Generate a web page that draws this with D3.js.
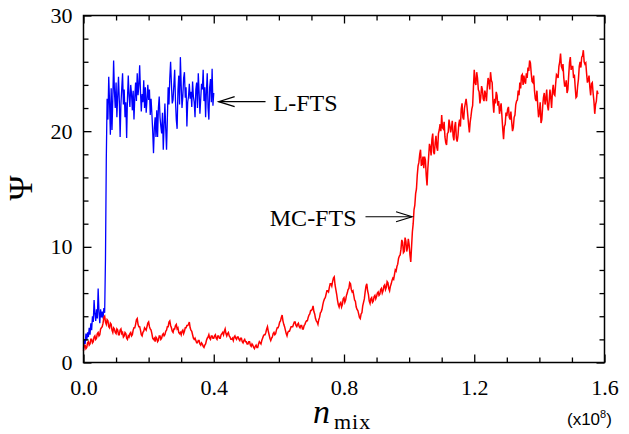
<!DOCTYPE html>
<html>
<head>
<meta charset="utf-8">
<script src="https://cdn.jsdelivr.net/npm/d3@7"></script>
<style>
  body { margin: 0; background: #fff; }
  text { font-family: "Liberation Serif", "DejaVu Serif", serif; fill: #000; }
</style>
</head>
<body>
<div id="chart"></div>
<script>
// MC-FTS run, sampled every 0.0025 (x1e8) from 0
var redStep = 0.0025;
var redValues = [
  1.0, 1.5, 1.5, 1.2, 1.3, 1.7, 1.8, 1.5, 1.6, 2.0, 2.0, 1.7, 1.8, 2.2, 2.3, 2.0, 2.1, 2.5, 2.6, 2.3,
  2.4, 2.9, 3.0, 3.1, 3.4, 3.9, 4.0, 3.5, 3.3, 3.7, 3.6, 3.1, 3.0, 3.4, 3.3, 2.8, 2.6, 3.0, 2.9, 2.6,
  2.5, 2.9, 2.8, 2.4, 2.4, 2.8, 2.9, 2.5, 2.6, 2.2, 2.3, 2.6, 2.5, 2.1, 2.0, 2.3, 2.2, 2.5, 2.6, 2.3,
  2.4, 2.8, 3.0, 3.0, 3.3, 3.7, 3.8, 3.3, 3.1, 3.1, 2.8, 2.4, 2.3, 2.6, 2.7, 3.0, 2.9, 2.8, 3.1, 3.4,
  3.5, 3.1, 2.9, 2.8, 2.5, 2.1, 2.0, 2.1, 1.8, 2.2, 2.1, 1.8, 1.9, 2.3, 2.3, 2.0, 2.1, 2.4, 2.5, 2.3,
  2.4, 2.7, 2.8, 3.1, 3.1, 3.5, 3.6, 3.2, 3.0, 2.7, 2.6, 2.9, 2.9, 3.2, 3.3, 2.9, 3.0, 2.6, 2.5, 2.6,
  2.4, 2.7, 2.8, 2.5, 2.7, 3.0, 3.0, 3.2, 3.2, 3.3, 3.5, 3.0, 2.8, 2.7, 2.4, 2.1, 2.0, 2.1, 1.9, 1.7,
  1.7, 1.9, 1.9, 1.6, 1.5, 1.7, 1.6, 1.4, 1.3, 1.5, 1.6, 1.9, 2.1, 2.2, 2.4, 2.1, 2.0, 2.3, 2.3, 2.1,
  2.1, 2.3, 2.4, 2.1, 2.0, 2.3, 2.3, 2.1, 2.1, 2.4, 2.5, 2.6, 2.4, 2.7, 2.9, 2.5, 2.3, 2.5, 2.6, 2.3,
  2.2, 2.0, 2.0, 2.1, 1.9, 2.2, 2.3, 2.1, 2.0, 2.2, 2.2, 2.0, 1.9, 2.1, 2.1, 1.8, 1.7, 1.9, 2.0, 1.8,
  1.8, 1.6, 1.6, 1.8, 1.8, 1.5, 1.4, 1.6, 1.5, 1.3, 1.2, 1.4, 1.5, 1.3, 1.3, 1.6, 1.8, 1.7, 1.6, 1.9,
  2.1, 2.3, 2.4, 2.4, 2.6, 2.9, 3.1, 2.7, 2.4, 2.1, 1.9, 2.1, 2.2, 2.5, 2.6, 2.4, 2.5, 2.8, 3.0, 3.0,
  3.2, 3.5, 3.6, 3.9, 4.1, 3.6, 3.3, 3.1, 2.8, 2.5, 2.3, 2.6, 2.7, 2.7, 2.9, 3.1, 3.1, 3.1, 3.3, 3.5,
  3.5, 3.2, 3.1, 3.3, 3.4, 3.1, 3.0, 3.2, 3.2, 2.9, 2.9, 3.2, 3.3, 3.5, 3.6, 3.6, 3.9, 4.1, 4.2, 4.5,
  4.5, 4.6, 4.9, 4.4, 4.2, 3.8, 3.6, 3.5, 3.3, 3.7, 3.9, 4.3, 4.4, 4.6, 5.0, 5.3, 5.5, 5.6, 5.9, 6.2,
  6.2, 6.1, 6.5, 6.8, 6.8, 6.6, 7.0, 7.3, 7.4, 6.7, 6.3, 5.9, 5.4, 5.0, 4.8, 5.1, 5.2, 4.8, 5.0, 5.5,
  5.6, 5.2, 5.4, 5.8, 6.0, 6.3, 6.4, 6.9, 6.8, 6.3, 6.1, 6.2, 5.8, 5.4, 5.3, 4.8, 4.6, 4.5, 4.2, 3.9,
  3.8, 4.2, 4.3, 4.9, 5.2, 5.5, 6.1, 6.6, 6.8, 6.2, 5.9, 5.3, 5.1, 5.5, 5.6, 5.2, 5.3, 5.7, 5.8, 5.5,
  5.7, 6.0, 6.1, 5.8, 5.9, 6.3, 6.4, 6.0, 6.2, 6.6, 6.7, 6.3, 6.5, 7.0, 6.9, 6.4, 6.2, 6.6, 6.8, 7.1,
  7.3, 7.2, 7.6, 8.0, 7.9, 8.3, 8.5, 9.0, 9.2, 9.3, 9.8, 10.6, 10.4, 9.5, 9.6, 10.8, 10.5, 9.6, 9.9, 10.7,
  10.2, 9.3, 8.7, 10.0, 11.3, 12.0, 13.2, 13.6, 14.6, 15.0, 16.2, 17.0, 17.3, 18.0, 18.4, 17.0, 17.2, 17.8, 16.8, 17.8,
  17.5, 16.2, 15.3, 16.8, 17.8, 18.9, 18.6, 17.9, 19.3, 19.8, 18.2, 18.0, 19.0, 19.6, 18.6, 18.3, 19.8, 20.1, 20.6, 20.0,
  21.4, 20.3, 20.2, 20.8, 19.5, 19.0, 18.8, 19.8, 19.9, 21.0, 20.5, 19.9, 20.3, 20.9, 19.6, 19.2, 20.4, 20.8, 19.4, 19.1,
  19.6, 20.6, 21.0, 20.4, 21.9, 22.4, 21.2, 21.0, 22.0, 22.4, 22.8, 22.2, 21.4, 20.6, 19.9, 20.8, 21.3, 21.9, 22.2, 23.8,
  25.3, 24.2, 24.0, 25.1, 24.6, 23.6, 23.4, 22.4, 22.9, 23.9, 23.6, 22.8, 22.6, 23.5, 23.2, 22.6, 23.8, 24.6, 24.3, 23.6,
  25.1, 24.4, 24.2, 22.5, 21.6, 22.8, 22.4, 23.4, 23.1, 22.2, 22.6, 21.5, 22.0, 22.4, 21.3, 20.2, 19.3, 20.4, 20.6, 21.6,
  21.3, 21.9, 22.1, 21.2, 21.0, 21.7, 20.8, 20.0, 20.3, 21.2, 21.4, 22.3, 22.6, 22.7, 23.5, 23.1, 24.2, 23.7, 24.8, 24.9,
  24.0, 24.8, 24.3, 24.1, 25.0, 24.6, 25.5, 25.2, 26.1, 25.9, 25.0, 24.3, 24.2, 24.8, 23.5, 22.8, 22.6, 23.5, 22.2, 21.2,
  21.6, 22.5, 20.7, 21.0, 22.1, 22.9, 23.3, 22.3, 22.8, 23.6, 22.2, 21.8, 22.6, 23.6, 22.9, 22.0, 23.4, 24.0, 23.2, 23.1,
  24.1, 24.9, 24.8, 24.6, 25.6, 26.0, 26.7, 25.6, 25.4, 25.8, 24.6, 23.9, 23.9, 24.4, 23.3, 23.6, 24.8, 25.9, 26.4, 25.3,
  25.6, 25.6, 24.6, 24.9, 23.8, 22.9, 23.0, 23.9, 24.5, 25.6, 26.0, 25.5, 26.4, 26.5, 27.0, 26.0, 25.8, 25.9, 25.0, 24.2,
  24.4, 24.8, 23.8, 23.1, 24.1, 24.2, 23.3, 22.6, 21.5, 22.3, 22.6, 23.5, 23.2
];

// L-FTS run, sampled every 0.0025 (x1e8) from 0
var blueStep = 0.0025;
var blueValues = [
  1.2, 2.0, 1.6, 2.5, 1.9, 2.6, 2.2, 3.0, 2.4, 3.4,
  2.8, 4.0, 3.5, 5.4, 4.2, 3.6, 4.6, 3.8, 6.4, 4.4,
  3.4, 4.6, 3.9, 4.4, 3.8, 4.7, 4.3, 9.0, 17.5, 22.8,
  21.0, 24.7, 22.5, 19.7, 23.7, 20.1, 22.8, 26.1, 23.4, 22.0,
  24.2, 21.2, 23.0, 24.7, 22.6, 19.5, 22.4, 23.7, 25.0, 22.3,
  23.6, 21.2, 22.5, 19.4, 22.8, 24.8, 23.0, 22.1, 24.0, 23.2,
  21.8, 23.5, 21.0, 22.9, 24.2, 22.6, 25.0, 23.1, 24.0, 25.7,
  23.4, 21.7, 23.2, 22.5, 24.4, 22.0, 23.8, 21.6, 22.7, 24.0,
  22.7, 23.6, 21.4, 22.8, 21.5, 20.0, 18.1, 20.3, 21.2, 19.5,
  21.8, 19.5, 22.0, 23.0, 21.2, 20.4, 19.8, 21.6, 18.4, 20.5,
  22.4, 20.2, 18.4, 21.0, 23.8, 22.3, 24.6, 26.0, 24.1, 22.4,
  22.7, 24.0, 25.3, 22.6, 21.0, 20.2, 23.5, 24.8, 22.3, 26.4,
  24.0, 22.0, 23.0, 24.6, 25.1, 22.9, 23.8, 20.4, 22.5, 23.0,
  24.1, 22.8, 23.4, 22.1, 24.3, 23.0, 22.5, 21.2, 23.6, 24.2,
  22.0, 25.0, 23.4, 21.5, 22.8, 24.1, 23.6, 25.3, 22.6, 23.8,
  21.2, 23.5, 25.0, 22.0, 21.0, 23.8, 24.5, 22.5, 25.4, 22.2,
  23.3
];

var xMajor = [0, 0.4, 0.8, 1.2, 1.6];
var xMinor = [0.1, 0.2, 0.3, 0.5, 0.6, 0.7, 0.9, 1.0, 1.1, 1.3, 1.4, 1.5];
var yMajor = [0, 10, 20, 30];
var yMinor = [2, 4, 6, 8, 12, 14, 16, 18, 22, 24, 26, 28];

// annotations: label, arrow tail x, arrow tip x, y
var notes = [
  { label: 'L-FTS', tail: 0.559, tip: 0.415, y: 22.55, side: 'right' },
  { label: 'MC-FTS', tail: 0.866, tip: 1.009, y: 12.6, side: 'left' }
];

var W = 629, H = 434;
var m = { left: 83.5, right: 629 - 604.5, top: 15.5, bottom: 434 - 362.5 };
var pw = W - m.left - m.right, ph = H - m.top - m.bottom;

var svg = d3.select('#chart').append('svg')
  .attr('width', W).attr('height', H);

var x = d3.scaleLinear().domain([0, 1.6]).range([0, pw]);
var y = d3.scaleLinear().domain([0, 30]).range([ph, 0]);

var g = svg.append('g').attr('transform', 'translate(' + m.left + ',' + m.top + ')');

var line = d3.line()
  .x(d => x(d[0]))
  .y(d => y(d[1]));

var blueData = blueValues.map((v, i) => [i * blueStep, v]);
var redData = redValues.map((v, i) => [i * redStep, v]);

g.append('path').datum(blueData)
  .attr('d', line).attr('fill', 'none')
  .attr('stroke', '#0000ff').attr('stroke-width', 1.3);
g.append('path').datum(redData)
  .attr('d', line).attr('fill', 'none')
  .attr('stroke', '#ff0000').attr('stroke-width', 1.5);

// axes, ticks pointing inward on all four sides
function styleAxis(sel) {
  sel.select('.domain').remove();
  sel.selectAll('line').attr('stroke', '#000').attr('stroke-width', 1.3);
  sel.selectAll('text').style('font-family', '"Liberation Serif", serif').style('font-size', '22px');
}

g.append('g').attr('transform', 'translate(0,' + ph + ')')
  .call(d3.axisBottom(x).tickValues(xMajor).tickSize(-8).tickPadding(17)
    .tickFormat(d3.format('.1f')))
  .call(styleAxis);
g.append('g').attr('transform', 'translate(0,' + ph + ')')
  .call(d3.axisBottom(x).tickValues(xMinor).tickSize(-5).tickFormat(''))
  .call(styleAxis);
g.append('g')
  .call(d3.axisTop(x).tickValues(xMajor).tickSize(-8).tickFormat(''))
  .call(styleAxis);
g.append('g')
  .call(d3.axisTop(x).tickValues(xMinor).tickSize(-5).tickFormat(''))
  .call(styleAxis);

g.append('g')
  .call(d3.axisLeft(y).tickValues(yMajor).tickSize(-8).tickPadding(11))
  .call(styleAxis);
g.append('g')
  .call(d3.axisLeft(y).tickValues(yMinor).tickSize(-5).tickFormat(''))
  .call(styleAxis);
g.append('g').attr('transform', 'translate(' + pw + ',0)')
  .call(d3.axisRight(y).tickValues(yMajor).tickSize(-8).tickFormat(''))
  .call(styleAxis);
g.append('g').attr('transform', 'translate(' + pw + ',0)')
  .call(d3.axisRight(y).tickValues(yMinor).tickSize(-5).tickFormat(''))
  .call(styleAxis);

g.append('rect')
  .attr('width', pw).attr('height', ph)
  .attr('fill', 'none').attr('stroke', '#000').attr('stroke-width', 1.5);

// annotations with open arrowheads
notes.forEach(function (n) {
  var x0 = x(n.tail), x1 = x(n.tip), yy = y(n.y);
  var dir = x1 > x0 ? 1 : -1;
  g.append('line')
    .attr('x1', x0).attr('y1', yy).attr('x2', x1).attr('y2', yy)
    .attr('stroke', '#000').attr('stroke-width', 1.2);
  g.append('path')
    .attr('d', 'M' + (x1 - dir * 16) + ',' + (yy - 5) + 'L' + x1 + ',' + yy + 'L' + (x1 - dir * 16) + ',' + (yy + 5))
    .attr('fill', 'none').attr('stroke', '#000').attr('stroke-width', 1.2);
  g.append('text')
    .attr('x', n.side == 'right' ? x0 + 8 : x0 - 9)
    .attr('y', yy + 9)
    .attr('text-anchor', n.side == 'right' ? 'start' : 'end')
    .style('font-size', '24px')
    .text(n.label);
});

// axis titles
svg.append('text')
  .attr('transform', 'translate(32,188) rotate(-90)')
  .attr('text-anchor', 'middle')
  .style('font-size', '34px')
  .text('Ψ');

var xt = svg.append('text').attr('x', 313).attr('y', 423);
xt.append('tspan').style('font-style', 'italic').style('font-size', '34px').text('n');
xt.append('tspan').attr('dx', 4).attr('dy', 6).style('font-size', '22px')
  .style('letter-spacing', '1px').text('mix');

var ex = svg.append('text').attr('x', 567).attr('y', 425)
  .style('font-family', '"Liberation Sans", sans-serif').style('font-size', '17px');
ex.append('tspan').text('(x10');
ex.append('tspan').attr('dy', -7).style('font-size', '11px').text('8');
ex.append('tspan').attr('dy', 7).text(')');
</script>
</body>
</html>
